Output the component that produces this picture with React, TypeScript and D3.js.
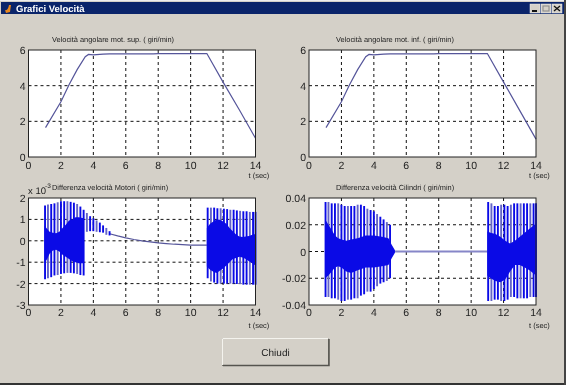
import React from "react";
import * as d3 from "d3";

const W = 566, H = 385;

const windowTitle = "Grafici Velocità";
const closeLabel = "Chiudi";
const timeLabel = "t (sec)";
const titleSup = "Velocità angolare mot. sup. ( giri/min)";
const titleInf = "Velocità angolare mot. inf. ( giri/min)";
const titleMotori = "Differenza velocità Motori ( giri/min)";
const titleCilindri = "Differenza velocità Cilindri ( giri/min)";

const xTicks = [0, 2, 4, 6, 8, 10, 12, 14];
const speedTicks = [0, 2, 4, 6];
const motorTicks = [-3, -2, -1, 0, 1, 2];
const cylTicks = [-0.04, -0.02, 0, 0.02, 0.04];

const speedT = [1.05, 2, 2.5, 3, 3.5, 3.7, 4, 4.6, 5, 7.7, 8, 11, 12, 13, 14];
const speedSup = [1.65, 3.1, 4.05, 4.9, 5.62, 5.75, 5.73, 5.77, 5.78, 5.78, 5.8, 5.8, 4.2, 2.65, 1.05];
const speedInf = [1.65, 3.1, 4.05, 4.9, 5.62, 5.75, 5.73, 5.77, 5.78, 5.78, 5.8, 5.8, 4.2, 2.6, 1.0];

const motorSpikeT = [1.02, 1.2, 1.4, 1.6, 1.8, 2, 2.2, 2.4, 2.6, 2.8, 3, 3.2, 3.4, 3.6, 3.8, 4, 4.2, 4.4, 4.6, 4.8, 5, 11.05, 11.25, 11.45, 11.65, 11.85, 12.05, 12.25, 12.45, 12.65, 12.85, 13.05, 13.25, 13.45, 13.65, 13.85, 14];
const motorSpikeHi = [1.65, 1.7, 1.72, 1.75, 1.8, 1.85, 1.85, 1.85, 1.82, 1.78, 1.72, 1.6, 1.45, 1.3, 1.15, 1.05, 0.95, 0.85, 0.72, 0.6, 0.45, 1.55, 1.55, 1.55, 1.52, 1.52, 1.5, 1.48, 1.45, 1.45, 1.42, 1.4, 1.38, 1.38, 1.35, 1.35, 1.35];
const motorSpikeLo = [-1.8, -1.75, -1.7, -1.62, -1.6, -1.55, -1.52, -1.5, -1.5, -1.52, -1.55, -1.6, -1.62, 0.42, 0.45, 0.45, 0.42, 0.4, 0.38, 0.28, 0.25, -1.75, -1.9, -1.95, -2, -2, -2, -2, -2, -2, -2.02, -2.02, -2.05, -2.05, -2.05, -2.05, -2.05];
const motorBandT = [1, 1.15, 1.3, 1.5, 1.7, 1.9, 2.1, 2.3, 2.5, 2.7, 2.9, 3.1, 3.4, 11, 11.2, 11.4, 11.6, 11.8, 12, 12.2, 12.4, 12.6, 12.8, 13, 13.2, 13.4, 13.6, 13.8, 14];
const motorBandHi = [0.7, 0.55, 0.42, 0.38, 0.35, 0.42, 0.6, 0.75, 0.95, 1.0, 1.1, 1.1, 1.05, 0.6, 0.8, 0.9, 1.0, 0.98, 0.9, 0.8, 0.6, 0.45, 0.3, 0.2, 0.18, 0.2, 0.22, 0.28, 0.32];
const motorBandLo = [-1.05, -0.85, -0.6, -0.45, -0.42, -0.5, -0.65, -0.75, -0.85, -0.95, -1.0, -1.05, -1.05, -1.2, -1.35, -1.45, -1.5, -1.4, -1.3, -1.15, -1.0, -0.85, -0.8, -0.75, -0.78, -0.85, -0.95, -1.05, -1.15];
const motorCurveT = [5, 5.5, 6, 6.5, 7, 7.5, 8, 8.5, 9, 9.5, 10, 10.5, 11];
const motorCurveY = [0.33, 0.23, 0.14, 0.06, 0, -0.05, -0.1, -0.13, -0.16, -0.18, -0.2, -0.2, -0.2];

const cylSpikeT = [1.02, 1.2, 1.4, 1.6, 1.8, 2, 2.2, 2.4, 2.6, 2.8, 3, 3.2, 3.4, 3.6, 3.8, 4, 4.2, 4.4, 4.6, 4.8, 5, 11.05, 11.25, 11.45, 11.65, 11.85, 12.05, 12.25, 12.45, 12.65, 12.85, 13.05, 13.25, 13.45, 13.65, 13.85, 14];
const cylSpikeHi = [0.037, 0.037, 0.036, 0.036, 0.036, 0.035, 0.034, 0.034, 0.034, 0.034, 0.035, 0.035, 0.034, 0.032, 0.031, 0.03, 0.028, 0.026, 0.024, 0.022, 0.02, 0.037, 0.036, 0.034, 0.034, 0.035, 0.035, 0.034, 0.035, 0.036, 0.036, 0.036, 0.036, 0.036, 0.036, 0.036, 0.036];
const cylSpikeLo = [-0.034, -0.034, -0.035, -0.035, -0.036, -0.037, -0.037, -0.036, -0.036, -0.035, -0.035, -0.033, -0.032, -0.03, -0.03, -0.028, -0.026, -0.024, -0.023, -0.022, -0.02, -0.037, -0.037, -0.036, -0.036, -0.037, -0.037, -0.036, -0.034, -0.034, -0.035, -0.035, -0.035, -0.035, -0.034, -0.034, -0.034];
const cylBandT = [1, 1.2, 1.4, 1.6, 1.8, 2, 2.3, 2.6, 3, 3.5, 4, 4.5, 4.9, 5.1, 5.3, 11, 11.2, 11.5, 11.8, 12.1, 12.4, 12.7, 13, 13.3, 13.6, 14];
const cylBandHi = [0.024, 0.02, 0.016, 0.012, 0.01, 0.009, 0.008, 0.009, 0.01, 0.012, 0.012, 0.011, 0.01, 0.005, 0.001, 0.015, 0.014, 0.013, 0.011, 0.008, 0.006, 0.008, 0.011, 0.014, 0.017, 0.021];
const cylBandLo = [-0.02, -0.018, -0.015, -0.012, -0.011, -0.012, -0.015, -0.016, -0.014, -0.012, -0.012, -0.011, -0.01, -0.005, -0.001, -0.018, -0.02, -0.022, -0.023, -0.021, -0.015, -0.01, -0.01, -0.012, -0.014, -0.018];
const cylFlatT = [5.2, 11];
const cylFlatY = [0, 0];

const BLUE = "#0a0ae6";
const SOFT = "#6464c8";
const LINE = "#55559a";
const FLAT = "#8686c8";
const BG = "#d4d0c8";
const font = "'Liberation Sans', Arial, sans-serif";

type Rect = { x0: number; x1: number; y0: number; y1: number };
const leftCol = { x0: 28.5, x1: 255.5 };
const rightCol = { x0: 309, x1: 536 };
const topRow = { y0: 50, y1: 157 };
const botRow = { y0: 198, y1: 305 };

function Axes({ r, domain, ticks, fmt, children, labelY, tY }: any) {
  const x = d3.scaleLinear().domain([0, 14]).range([r.x0, r.x1]);
  const y = d3.scaleLinear().domain(domain).range([r.y1, r.y0]);
  return (
    <g>
      <rect x={r.x0} y={r.y0} width={r.x1 - r.x0} height={r.y1 - r.y0} fill="#fff" />
      {xTicks.slice(1, -1).map((t) => (
        <line key={t} x1={x(t)} x2={x(t)} y1={r.y0} y2={r.y1} stroke="#111" strokeDasharray="3 3" />
      ))}
      {ticks.slice(1, -1).map((t: number) => (
        <line key={t} x1={r.x0} x2={r.x1} y1={y(t)} y2={y(t)} stroke="#111" strokeDasharray="3 3" />
      ))}
      {children(x, y)}
      <rect x={r.x0} y={r.y0} width={r.x1 - r.x0} height={r.y1 - r.y0} fill="none" stroke="#222" />
      {xTicks.map((t) => (
        <text key={t} x={x(t)} y={labelY} textAnchor="middle" fontSize={10.5} fill="#222" fontFamily={font}>{t}</text>
      ))}
      {ticks.map((t: number) => (
        <text key={t} x={r.x0 - 3} y={y(t) + 4} textAnchor="end" fontSize={10.5} fill="#222" fontFamily={font}>{fmt(t)}</text>
      ))}
      <text x={r.x1 - 7} y={tY} fontSize={7.5} fill="#222" fontFamily={font}>{timeLabel}</text>
    </g>
  );
}

function Speed(x: any, y: any, v: number[]) {
  const d = d3.line<number>().x((t) => x(t)).y((_, i) => y(v[i]))(speedT) || "";
  return <path d={d} fill="none" stroke={LINE} strokeWidth={1.2} />;
}

function Osc(x: any, y: any, sT: number[], hi: number[], lo: number[], bT: number[], bHi: number[], bLo: number[], cT: number[], cY: number[], cColor: string, cWidth: number) {
  const split = bT.findIndex((t, i) => i > 0 && t - bT[i - 1] > 3);
  const parts = [d3.range(0, split), d3.range(split, bT.length)];
  const area = d3.area<number>().x((i) => x(bT[i])).y0((i) => y(bLo[i])).y1((i) => y(bHi[i]));
  const curve = d3.line<number>().x((t) => x(t)).y((_, i) => y(cY[i]))(cT) || "";
  return (
    <g>
      <path d={curve} fill="none" stroke={cColor} strokeWidth={cWidth} />
      {sT.map((t, i) => (
        <line key={i} x1={x(t)} x2={x(t)} y1={y(hi[i])} y2={y(lo[i])} stroke={i % 3 === 1 ? SOFT : BLUE} strokeWidth={1.9} />
      ))}
      {parts.map((p, i) => <path key={i} d={area(p) || ""} fill={BLUE} />)}
    </g>
  );
}

export default function App() {
  const left = (row: any): Rect => ({ ...leftCol, ...row });
  const right = (row: any): Rect => ({ ...rightCol, ...row });
  const plain = (t: number) => String(t);
  return (
    <svg width={W} height={H} viewBox={`0 0 ${W} ${H}`} textRendering="geometricPrecision" style={{ position: "fixed", left: 0, top: 0, display: "block", filter: "blur(0.4px)" }}>
      <rect width={W} height={H} fill={BG} />
      <rect x={0} y={0} width={W} height={1} fill="#eee" />
      <rect x={0} y={H - 2} width={W} height={2} fill="#333" />
      <rect x={W - 2} y={0} width={2} height={H} fill="#444" />
      <rect x={1} y={2} width={W - 3} height={12} fill="#0a246a" />
      <path d="M5 10 q3 1 4 -5 l2 0 l-1 7 l-4 1 z" fill="#e8871e" />
      <text x={16} y={11.5} fontSize={9.5} fontWeight="bold" fill="#fff" fontFamily={font}>{windowTitle}</text>
      {[530, 541, 552].map((bx, i) => (
        <g key={bx}>
          <rect x={bx} y={4} width={10} height={9} fill={BG} stroke="#eee" strokeWidth={0.5} />
          {i === 0 && <rect x={bx + 2} y={10} width={5} height={2} fill="#111" />}
          {i === 1 && <rect x={bx + 2} y={6} width={6} height={5} fill="none" stroke="#888" />}
          {i === 2 && <path d={`M${bx + 2} 6 l6 5 m0 -5 l-6 5`} stroke="#111" strokeWidth={1.3} />}
        </g>
      ))}

      <text x={52} y={42} fontSize={7.4} fill="#222" fontFamily={font}>{titleSup}</text>
      <text x={336} y={42} fontSize={7.4} fill="#222" fontFamily={font}>{titleInf}</text>
      <Axes r={left(topRow)} domain={[0, 6]} ticks={speedTicks} fmt={plain} labelY={169} tY={177.5}>
        {(x: any, y: any) => Speed(x, y, speedSup)}
      </Axes>
      <Axes r={right(topRow)} domain={[0, 6]} ticks={speedTicks} fmt={plain} labelY={169} tY={177.5}>
        {(x: any, y: any) => Speed(x, y, speedInf)}
      </Axes>

      <text x={28} y={194} fontSize={9.5} fill="#222" fontFamily={font}>x 10</text>
      <text x={45} y={188} fontSize={6.5} fill="#222" fontFamily={font}>-3</text>
      <text x={52} y={189.5} fontSize={7.4} fill="#222" fontFamily={font}>{titleMotori}</text>
      <text x={336} y={189.5} fontSize={7.4} fill="#222" fontFamily={font}>{titleCilindri}</text>
      <Axes r={left(botRow)} domain={[-3, 2]} ticks={motorTicks} fmt={plain} labelY={316} tY={328}>
        {(x: any, y: any) => Osc(x, y, motorSpikeT, motorSpikeHi, motorSpikeLo, motorBandT, motorBandHi, motorBandLo, motorCurveT, motorCurveY, LINE, 1.2)}
      </Axes>
      <Axes r={right(botRow)} domain={[-0.04, 0.04]} ticks={cylTicks} fmt={plain} labelY={316} tY={328}>
        {(x: any, y: any) => Osc(x, y, cylSpikeT, cylSpikeHi, cylSpikeLo, cylBandT, cylBandHi, cylBandLo, cylFlatT, cylFlatY, FLAT, 2)}
      </Axes>

      <rect x={222.5} y={338.5} width={106} height={27} fill={BG} stroke="#77756e" />
      <path d="M222.5 365 V338.5 H328.5" fill="none" stroke="#f4f3ee" />
      <path d="M223 365.5 H329 V339" fill="none" stroke="#55544f" strokeWidth={1.5} />
      <text x={275.5} y={355.5} textAnchor="middle" fontSize={10} fill="#222" fontFamily={font}>{closeLabel}</text>
    </svg>
  );
}
